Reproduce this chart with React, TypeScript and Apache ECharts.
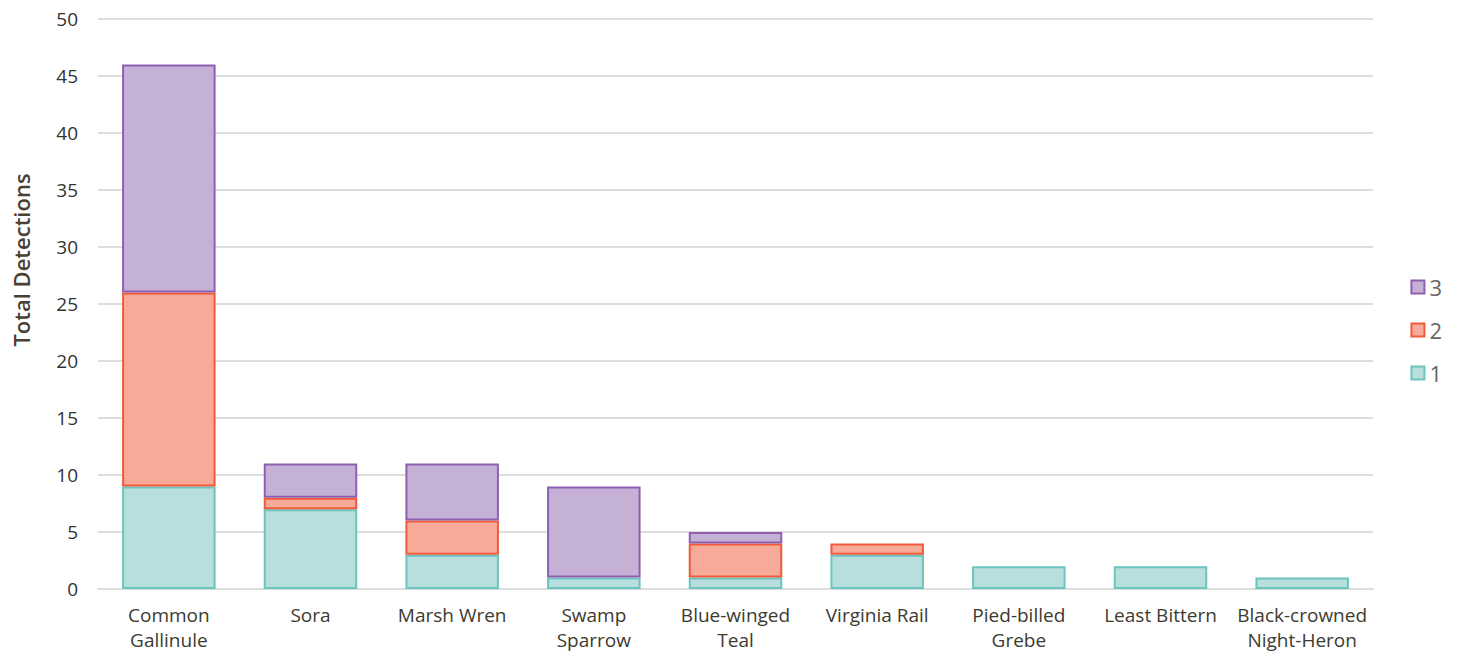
import React, { useEffect, useRef } from "react";
import * as echarts from "echarts";

const categories = [
  "Common\nGallinule",
  "Sora",
  "Marsh Wren",
  "Swamp\nSparrow",
  "Blue-winged\nTeal",
  "Virginia Rail",
  "Pied-billed\nGrebe",
  "Least Bittern",
  "Black-crowned\nNight-Heron",
];
const series1 = [9, 7, 3, 1, 1, 3, 2, 2, 1];
const series2 = [17, 1, 3, null, 3, 1, null, null, null];
const series3 = [20, 3, 5, 8, 1, null, null, null, null];
const yTicks = { min: 0, max: 50, interval: 5 };

const FONT = "'Open Sans', Lato, sans-serif";

export default function App() {
  const ref = useRef<HTMLDivElement>(null);
  useEffect(() => {
    document.body.style.margin = "0";
    const chart = echarts.init(ref.current!, undefined, { renderer: "svg" });
    const mk = (name: string, data: any[], fill: string, border: string) => ({
      name,
      type: "bar",
      stack: "total",
      data,
      barWidth: "66%",
      itemStyle: { color: fill, borderColor: border, borderWidth: 2 },
    });
    chart.setOption({
      animation: false,
      textStyle: { fontFamily: FONT },
      grid: { left: 98, right: 88, top: 19, bottom: 63, outerBoundsMode: "none", containLabel: false },
      legend: {
        orient: "vertical",
        right: 14,
        top: 271,
        itemGap: 21,
        itemWidth: 13,
        itemHeight: 13,
        icon: "rect",
        data: ["3", "2", "1"],
        textStyle: { fontSize: 22, color: "#666", fontFamily: FONT },
      },
      xAxis: {
        type: "category",
        data: categories,
        axisTick: { show: false },
        axisLine: { lineStyle: { color: "#ddd", width: 2 } },
        axisLabel: {
          fontSize: 19,
          color: "#3d3a30",
          margin: 13,
          lineHeight: 25,
          interval: 0,
          fontFamily: FONT,
        },
      },
      yAxis: {
        type: "value",
        ...yTicks,
        axisLabel: { fontSize: 19, color: "#333", margin: 20, fontFamily: FONT },
        splitLine: { lineStyle: { color: "#ddd", width: 2 } },
        axisLine: { show: false },
        axisTick: { show: false },
      },
      graphic: [
        {
          type: "text",
          x: 21,
          y: 260,
          rotation: Math.PI / 2,
          style: {
            text: "Total Detections",
            fontSize: 22,
            fontWeight: 600,
            fill: "#4a4033",
            fontFamily: FONT,
            align: "center",
            verticalAlign: "middle",
          },
        },
      ],
      series: [
        mk("1", series1, "#b8dfdd", "#6cc4bf"),
        mk("2", series2, "#f8aa98", "#f05a3a"),
        mk("3", series3, "#c6b1d6", "#8e5fb0"),
      ],
    });
    return () => chart.dispose();
  }, []);
  return <div ref={ref} style={{ width: 1461, height: 652 }} />;
}
